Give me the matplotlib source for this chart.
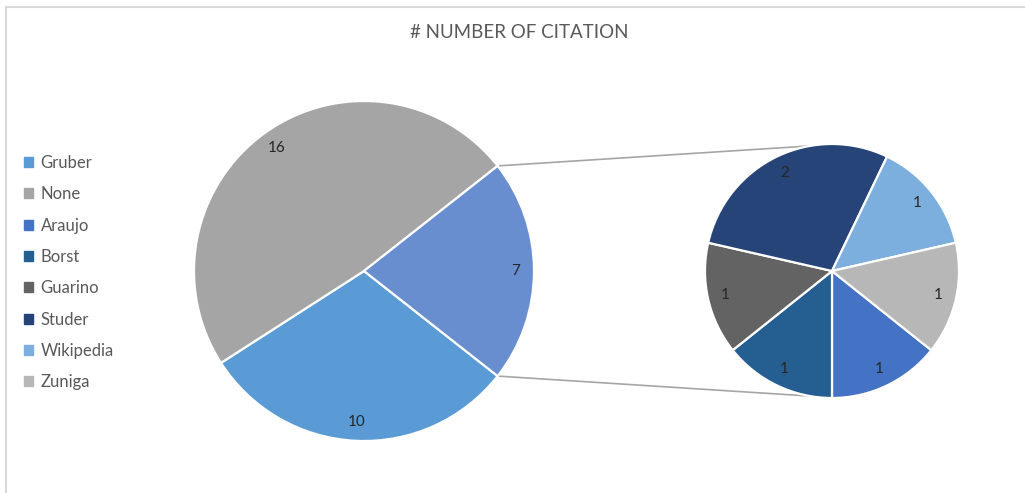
import numpy as np
import matplotlib.pyplot as plt
import matplotlib.patches as mpatches

plt.rcParams['font.family'] = ['Lato', 'DejaVu Sans']

# main pie: Gruber, None, and the rest (split into the second pie)
main_labels = ['Gruber', 'None', 'Other']
main_vals = [10, 16, 7]
main_colors = ['#5B9BD5', '#A5A5A5', '#698ED0']

# second pie
sub_labels = ['Araujo', 'Borst', 'Guarino', 'Studer', 'Wikipedia', 'Zuniga']
sub_vals = [1, 1, 1, 2, 1, 1]
sub_colors = ['#4472C4', '#255E91', '#636363', '#264478', '#7CAFDD', '#B7B7B7']

W, H = 1025, 493
fig = plt.figure(figsize=(W / 100, H / 100), dpi=100)
ax = fig.add_axes([0, 0, 1, 1])

c1, r1 = (364, 222), 170
c2, r2 = (832, 222), 127

half = 360 * main_vals[2] / sum(main_vals) / 2
wedge_kw = dict(edgecolor='white', linewidth=1.6)
txt_kw = dict(fontsize=11, color='#262626')

ax.pie(main_vals, colors=main_colors, center=c1, radius=r1, startangle=-half,
       counterclock=False, labels=[str(v) for v in main_vals], labeldistance=0.89,
       wedgeprops=wedge_kw, textprops=txt_kw, frame=True)
for t in ax.texts:
    t.set_ha('center'); t.set_va('center')

n0 = len(ax.texts)
ax.pie(sub_vals, colors=sub_colors, center=c2, radius=r2,
       startangle=-90 + 360 * sub_vals[0] / sum(sub_vals), counterclock=False,
       labels=[str(v) for v in sub_vals], labeldistance=0.86,
       wedgeprops=wedge_kw, textprops=txt_kw, frame=True)
for t in ax.texts[n0:]:
    t.set_ha('center'); t.set_va('center')

ax.set_xlim(0, W)
ax.set_ylim(0, H)
ax.set_aspect('equal')
ax.axis('off')

# connector lines from split edges of main pie to second pie
for sgn in (1, -1):
    a = np.radians(sgn * half)
    p0 = (c1[0] + r1 * np.cos(a), c1[1] + r1 * np.sin(a))
    b = np.radians(sgn * 100)
    p1 = (c2[0] + r2 * np.cos(b), c2[1] + r2 * np.sin(b))
    ax.plot([p0[0], p1[0]], [p0[1], p1[1]], color='#A6A6A6', lw=1.2, zorder=0)

ax.text(519, H - 33, '# NUMBER OF CITATION', ha='center', va='center',
        fontsize=13.5, color='#595959')

handles = [mpatches.Patch(color=c) for c in [main_colors[0], main_colors[1]] + sub_colors]
names = main_labels[:2] + sub_labels
leg = ax.legend(handles, names, loc='upper left', bbox_to_anchor=(9 / W, (H - 140) / H),
                frameon=False, fontsize=12, handlelength=0.55, handleheight=0.55,
                handletextpad=0.45, labelspacing=0.92)
for t in leg.get_texts():
    t.set_color('#595959')

# chart border (left and top edges visible)
ax.plot([6, 6, W], [0, H - 6.5, H - 6.5], color='#D9D9D9', lw=1.5, clip_on=False)

fig.savefig('out.png', dpi=100)
